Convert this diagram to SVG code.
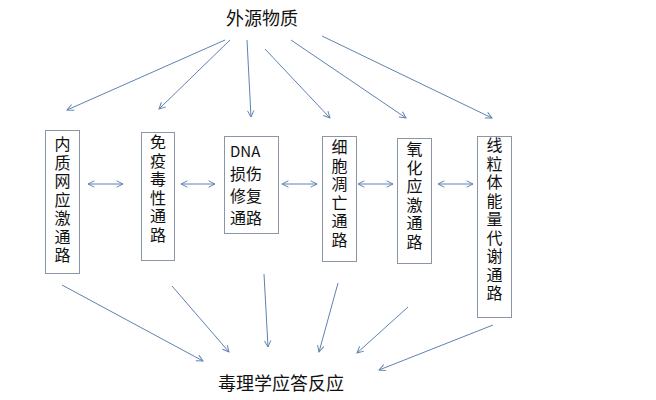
<svg xmlns="http://www.w3.org/2000/svg" width="656" height="400" viewBox="0 0 656 400">
<defs>
<marker id="ah" viewBox="0 0 10 10" refX="9" refY="5" markerWidth="8" markerHeight="8" markerUnits="userSpaceOnUse" orient="auto-start-reverse">
<path d="M1,1 L9,5 L1,9" fill="none" stroke="#5f82b0" stroke-width="1.2"/>
</marker>
<style>
.t{font-family:"Noto Sans CJK SC","Liberation Sans",sans-serif;fill:#111;}
.v{font-size:16px;writing-mode:vertical-rl;letter-spacing:2.5px;}
.box{fill:#fff;stroke:#8a96a6;stroke-width:1;}
.c{stroke:#5f82b0;stroke-width:1;fill:none;marker-end:url(#ah);}
.d{marker-start:url(#ah);}
</style>
</defs>
<rect width="656" height="400" fill="#fff"/>
<g id="source"><text class="t" x="262" y="25" font-size="18" text-anchor="middle">外源物质</text></g>
<g id="result"><text class="t" x="281" y="390" font-size="18" text-anchor="middle">毒理学应答反应</text></g>
<g id="n1"><rect class="box" x="45.5" y="130.5" width="34" height="143"/>
<text class="t v" x="62.5" y="136">内质网应激通路</text></g>
<g id="n2"><rect class="box" x="141.5" y="132.5" width="33" height="128"/>
<text class="t v" x="158" y="134">免疫毒性通路</text></g>
<g id="n3"><rect class="box" x="224.5" y="136.5" width="54" height="97"/>
<text class="t" font-size="15" x="230" y="157">DNA</text>
<text class="t" font-size="16" x="230" y="180">损伤</text>
<text class="t" font-size="16" x="230" y="202">修复</text>
<text class="t" font-size="16" x="230" y="224">通路</text></g>
<g id="n4"><rect class="box" x="322.5" y="136.5" width="34" height="125"/>
<text class="t v" x="339.5" y="139">细胞凋亡通路</text></g>
<g id="n5"><rect class="box" x="397.5" y="138.5" width="34" height="125"/>
<text class="t v" x="414.5" y="141">氧化应激通路</text></g>
<g id="n6"><rect class="box" x="477.5" y="136.5" width="34" height="181"/>
<text class="t v" x="494.5" y="137">线粒体能量代谢通路</text></g>
<g id="connectors">
<line class="c" x1="225" y1="40" x2="67" y2="110"/>
<line class="c" x1="230" y1="40" x2="159" y2="109"/>
<line class="c" x1="247" y1="40" x2="251" y2="117"/>
<line class="c" x1="265" y1="49" x2="330" y2="118"/>
<line class="c" x1="291" y1="40" x2="406" y2="118"/>
<line class="c" x1="322" y1="36" x2="492" y2="118"/>
<line class="c d" x1="88" y1="184" x2="123" y2="184"/>
<line class="c d" x1="181" y1="184" x2="215" y2="184"/>
<line class="c d" x1="282" y1="184" x2="317" y2="184"/>
<line class="c d" x1="358" y1="184" x2="393" y2="184"/>
<line class="c d" x1="438" y1="184" x2="473" y2="184"/>
<line class="c" x1="62" y1="285" x2="203" y2="361"/>
<line class="c" x1="172" y1="286" x2="229" y2="352"/>
<line class="c" x1="264" y1="274" x2="268" y2="347"/>
<line class="c" x1="338" y1="283" x2="319" y2="352"/>
<line class="c" x1="408" y1="307" x2="357" y2="353"/>
<line class="c" x1="493" y1="325" x2="379" y2="370"/>
</g>
</svg>
